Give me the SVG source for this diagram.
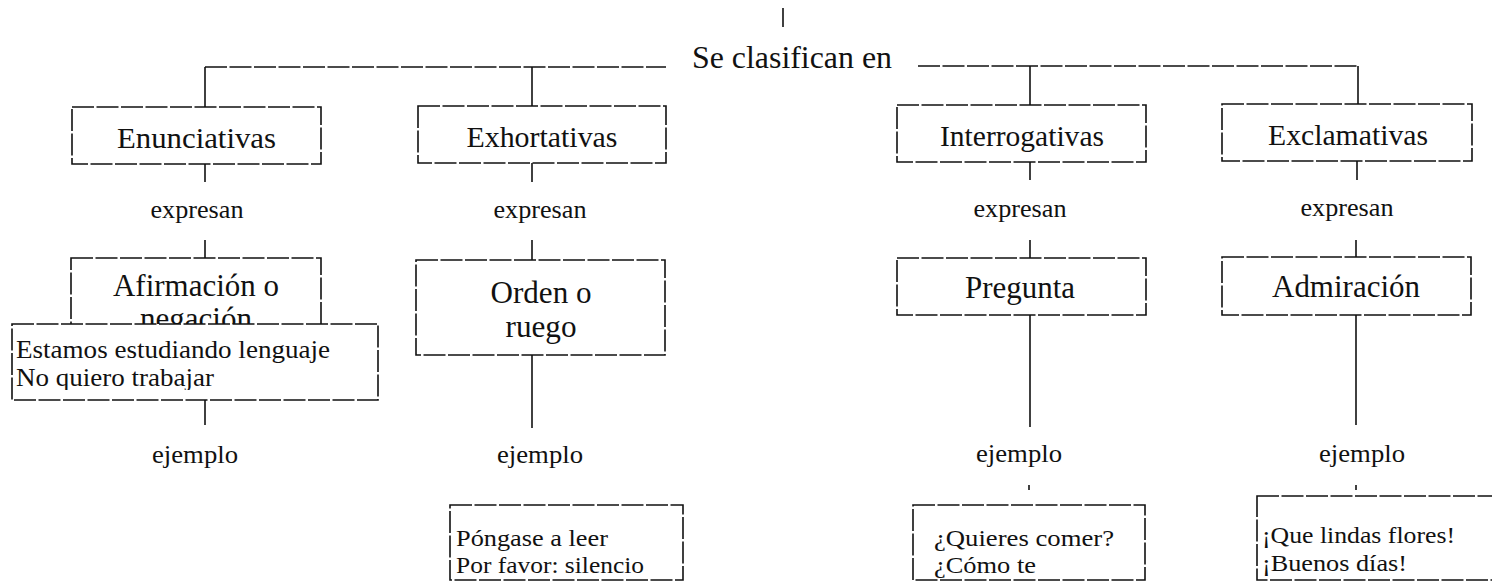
<svg xmlns="http://www.w3.org/2000/svg" width="1492" height="583" viewBox="0 0 1492 583">
<style>
text{font-family:"Liberation Serif","Times New Roman",serif;fill:#111}
.rt{font-size:32px;text-anchor:middle}
.t1{font-size:30px;text-anchor:middle}
.t2{font-size:31px;text-anchor:middle}
.lab{font-size:26px;text-anchor:middle}
.ex{font-size:23px}
.ex2{font-size:25px}
.box{fill:#fff;stroke:#111;stroke-width:1.6;stroke-dasharray:22 2.5}
.cn{stroke:#111;stroke-width:1.6;fill:none}
.dl{stroke:#111;stroke-width:1.6;fill:none;stroke-dasharray:22 2.5}
</style>
<defs>
<clipPath id="clipEx"><rect x="12" y="324" width="366" height="66"/></clipPath>
<clipPath id="clipNeg"><rect x="71" y="258" width="250" height="66"/></clipPath>
</defs>
<rect width="1492" height="583" fill="#fff"/>
<g id="connectors">
<line class="cn" x1="783" y1="8" x2="783" y2="27"/>
<line class="dl" x1="205" y1="67" x2="666" y2="67"/>
<line class="dl" x1="918" y1="66" x2="1358" y2="66"/>
<line class="cn" x1="205" y1="67" x2="205" y2="107"/>
<line class="cn" x1="532" y1="67" x2="532" y2="106"/>
<line class="cn" x1="1030" y1="66" x2="1030" y2="105"/>
<line class="cn" x1="1358" y1="66" x2="1358" y2="104"/>
<line class="cn" x1="205" y1="164" x2="205" y2="182"/>
<line class="cn" x1="532" y1="163" x2="532" y2="182"/>
<line class="cn" x1="1030" y1="162" x2="1030" y2="180"/>
<line class="cn" x1="1357" y1="161" x2="1357" y2="180"/>
<line class="cn" x1="205" y1="240" x2="205" y2="258"/>
<line class="cn" x1="532" y1="240" x2="532" y2="260"/>
<line class="cn" x1="1030" y1="240" x2="1030" y2="258"/>
<line class="cn" x1="1356" y1="240" x2="1356" y2="257"/>
<line class="cn" x1="205" y1="400" x2="205" y2="425"/>
<line class="cn" x1="532" y1="355" x2="532" y2="428"/>
<line class="cn" x1="1030" y1="315" x2="1030" y2="427"/>
<line class="cn" x1="1356" y1="315" x2="1356" y2="425"/>
<line class="cn" x1="1029" y1="485" x2="1029" y2="490"/>
<line class="cn" x1="1356" y1="485" x2="1356" y2="490"/>
</g>
<g id="root"><text class="rt" x="792" y="68" textLength="200" lengthAdjust="spacingAndGlyphs">Se clasifican en</text></g>
<g id="enunciativas"><rect class="box" x="72" y="107" width="249" height="57"/><text class="t1" x="196.5" y="148" textLength="159" lengthAdjust="spacingAndGlyphs">Enunciativas</text></g>
<g id="exhortativas"><rect class="box" x="418" y="106" width="248" height="57"/><text class="t1" x="542" y="147" textLength="151" lengthAdjust="spacingAndGlyphs">Exhortativas</text></g>
<g id="interrogativas"><rect class="box" x="897" y="105" width="249" height="57"/><text class="t1" x="1022" y="146" textLength="164" lengthAdjust="spacingAndGlyphs">Interrogativas</text></g>
<g id="exclamativas"><rect class="box" x="1222" y="104" width="250" height="57"/><text class="t1" x="1348" y="145" textLength="160" lengthAdjust="spacingAndGlyphs">Exclamativas</text></g>
<g id="expresan-labels">
<text class="lab" x="197" y="218" textLength="93" lengthAdjust="spacingAndGlyphs">expresan</text>
<text class="lab" x="540" y="218" textLength="93" lengthAdjust="spacingAndGlyphs">expresan</text>
<text class="lab" x="1020" y="217" textLength="93" lengthAdjust="spacingAndGlyphs">expresan</text>
<text class="lab" x="1347" y="216" textLength="93" lengthAdjust="spacingAndGlyphs">expresan</text>
</g>
<g id="afirmacion"><rect class="box" x="71" y="258" width="250" height="99"/><text class="t2" x="196" y="296" textLength="166" lengthAdjust="spacingAndGlyphs">Afirmación o</text><text class="t2" x="196" y="329" textLength="112" lengthAdjust="spacingAndGlyphs" clip-path="url(#clipNeg)">negación</text></g>
<g id="orden"><rect class="box" x="416" y="260" width="249" height="95"/><text class="t2" x="541" y="303" textLength="101" lengthAdjust="spacingAndGlyphs">Orden o</text><text class="t2" x="541" y="337" textLength="71" lengthAdjust="spacingAndGlyphs">ruego</text></g>
<g id="pregunta"><rect class="box" x="897" y="258" width="249" height="57"/><text class="t2" x="1020" y="298" textLength="110" lengthAdjust="spacingAndGlyphs">Pregunta</text></g>
<g id="admiracion"><rect class="box" x="1222" y="257" width="249" height="58"/><text class="t2" x="1346" y="297" textLength="148" lengthAdjust="spacingAndGlyphs">Admiración</text></g>
<g id="ejemplo-enunciativas"><rect class="box" x="12" y="324" width="366" height="76"/>
<text class="ex2" x="16" y="358" textLength="314" lengthAdjust="spacingAndGlyphs">Estamos estudiando lenguaje</text>
<text class="ex2" x="16" y="386" textLength="198" lengthAdjust="spacingAndGlyphs" clip-path="url(#clipEx)">No quiero trabajar</text></g>
<g id="ejemplo-labels">
<text class="lab" x="195" y="463" textLength="86" lengthAdjust="spacingAndGlyphs">ejemplo</text>
<text class="lab" x="540" y="463" textLength="86" lengthAdjust="spacingAndGlyphs">ejemplo</text>
<text class="lab" x="1019" y="462" textLength="86" lengthAdjust="spacingAndGlyphs">ejemplo</text>
<text class="lab" x="1362" y="462" textLength="86" lengthAdjust="spacingAndGlyphs">ejemplo</text>
</g>
<g id="ejemplo-exhortativas"><rect class="box" x="450" y="505" width="233" height="75"/>
<text class="ex" x="456" y="546" textLength="152" lengthAdjust="spacingAndGlyphs">Póngase a leer</text><text class="ex" x="456" y="573" textLength="188" lengthAdjust="spacingAndGlyphs">Por favor: silencio</text></g>
<g id="ejemplo-interrogativas"><rect class="box" x="913" y="505" width="232" height="75"/>
<text class="ex" x="934" y="546" textLength="180" lengthAdjust="spacingAndGlyphs">¿Quieres comer?</text><text class="ex" x="934" y="573" textLength="102" lengthAdjust="spacingAndGlyphs">¿Cómo te</text></g>
<g id="ejemplo-exclamativas"><rect class="box" x="1257" y="496" width="245" height="84"/>
<text class="ex" x="1262" y="543" textLength="193" lengthAdjust="spacingAndGlyphs">¡Que lindas flores!</text><text class="ex" x="1262" y="571" textLength="145" lengthAdjust="spacingAndGlyphs">¡Buenos días!</text></g>
</svg>
